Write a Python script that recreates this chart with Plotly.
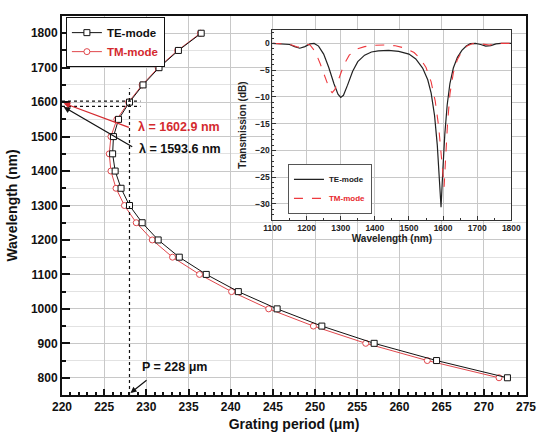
import plotly.graph_objects as go

# ---------------- data ----------------
wavelength_nm = [800, 850, 900, 950, 1000, 1050, 1100, 1150, 1200, 1250, 1300,
                 1350, 1400, 1450, 1500, 1550, 1600, 1650, 1700, 1750, 1800]
te_period_um = [272.8, 264.4, 257.0, 250.8, 245.5, 240.9, 237.1, 233.9, 231.4, 229.5, 228.0,
                227.0, 226.3, 226.0, 226.1, 226.7, 228.0, 229.6, 231.5, 233.8, 236.5]
tm_period_um = [271.8, 263.3, 256.0, 249.8, 244.5, 240.1, 236.3, 233.1, 230.7, 228.8, 227.4,
                226.4, 225.8, 225.6, 225.8, 226.5, 227.9, 229.5, 231.4, 233.7, 236.4]

inset_te_wl = [1100, 1130, 1150, 1165, 1180, 1195, 1210, 1222, 1235, 1250, 1265, 1280, 1292,
               1300, 1308, 1320, 1335, 1350, 1370, 1390, 1410, 1440, 1470, 1500, 1520, 1540,
               1555, 1565, 1575, 1583, 1589, 1594, 1599, 1605, 1612, 1620, 1630, 1642, 1655,
               1668, 1680, 1695, 1710, 1725, 1740, 1755, 1770, 1800]
inset_te_db = [0, -0.05, -0.2, -0.6, -0.9, -0.6, -0.1, 0, -0.5, -2.0, -4.5, -7.5, -9.5,
               -10.1, -9.7, -7.8, -5.2, -3.4, -2.2, -1.6, -1.4, -1.3, -1.5, -2.0, -2.9, -4.6,
               -6.8, -9.3, -13.5, -19.0, -24.5, -30.6, -24.0, -17.0, -11.5, -7.5, -4.6, -2.6, -1.3,
               -0.5, -0.05, 0, -0.2, -0.5, -0.4, -0.1, 0, 0]
inset_tm_wl = [1100, 1130, 1150, 1165, 1175, 1188, 1200, 1210, 1225, 1240, 1255, 1268, 1275,
               1283, 1295, 1310, 1325, 1345, 1370, 1400, 1430, 1460, 1490, 1515, 1535, 1550,
               1565, 1577, 1587, 1594, 1600, 1603, 1607, 1613, 1620, 1630, 1642, 1655, 1670,
               1685, 1700, 1720, 1735, 1750, 1770, 1800]
inset_tm_db = [0, -0.05, -0.15, -0.5, -0.7, -0.4, -0.1, -0.3, -1.5, -3.8, -6.6, -8.7, -9.2,
               -8.6, -6.5, -3.9, -2.2, -1.1, -0.6, -0.35, -0.3, -0.45, -0.9, -1.7, -3.0, -4.5,
               -7.2, -10.8, -15.5, -20.5, -25.5, -26.8, -22.0, -15.0, -9.5, -5.5, -3.0, -1.5, -0.5,
               -0.05, 0, -0.2, -0.3, -0.15, 0, 0]

series_names = ["TE-mode", "TM-mode"]
period_marker_um = 228
lambda_te_nm = 1593.6
lambda_tm_nm = 1602.9

main_x_range = [220, 275]
main_y_range = [750, 1850]
inset_x_range = [1100, 1800]
inset_y_range = [-33, 2.5]

# ---------------- styling ----------------
FONT = "Liberation Sans, Arial, sans-serif"
BLACK = "#111111"
TM_LINE = "#e0474c"
TM_TEXT = "#d42a2f"
GRID = "#c8c8c8"
GRID_MINOR = "#e2e2e2"
INSET_AX = "#333333"

fig = go.Figure()

# main curves
fig.add_trace(go.Scatter(
    x=tm_period_um, y=wavelength_nm, mode="lines+markers",
    name=f'<span style="color:{TM_TEXT}">{series_names[1]}</span>',
    line=dict(color=TM_LINE, width=1),
    marker=dict(symbol="circle", size=6, color="white", line=dict(color=TM_LINE, width=1)),
    legend="legend", legendrank=2))
fig.add_trace(go.Scatter(
    x=te_period_um, y=wavelength_nm, mode="lines+markers", name=series_names[0],
    line=dict(color=BLACK, width=1),
    marker=dict(symbol="square", size=6, color="white", line=dict(color=BLACK, width=1)),
    legend="legend", legendrank=1))

# inset curves
fig.add_trace(go.Scatter(
    x=inset_te_wl, y=inset_te_db, mode="lines", name=series_names[0],
    line=dict(color="#222222", width=1.2), xaxis="x4", yaxis="y4",
    legend="legend2", legendrank=1))
fig.add_trace(go.Scatter(
    x=inset_tm_wl, y=inset_tm_db, mode="lines",
    name=f'<span style="color:#e8282d">{series_names[1]}</span>',
    line=dict(color="#ee3a3f", width=1.1, dash="dash"), xaxis="x4", yaxis="y4",
    legend="legend2", legendrank=2))

bold = dict(family=FONT, weight="bold", color=BLACK)

fig.update_layout(
    width=547, height=435,
    margin=dict(l=62, r=11, t=16, b=40),
    paper_bgcolor="white", plot_bgcolor="white",
    font=dict(family=FONT, color=BLACK),
    xaxis=dict(
        domain=[0, 1], range=main_x_range, tick0=220, dtick=5,
        ticks="inside", ticklen=6, tickwidth=1.5, tickcolor=BLACK,
        showline=True, linewidth=2, linecolor=BLACK, mirror=True,
        showgrid=True, gridcolor=GRID, gridwidth=1, zeroline=False,
        minor=dict(dtick=1, ticks="inside", ticklen=3, tickcolor=BLACK, showgrid=False),
        tickfont=dict(size=12, **bold),
        title=dict(text="Grating period (μm)", font=dict(size=14, **bold), standoff=6),
        automargin=False,
    ),
    yaxis=dict(
        domain=[0, 1], range=main_y_range, tick0=800, dtick=100,
        ticks="inside", ticklen=8, tickwidth=1.5, tickcolor=BLACK,
        showline=True, linewidth=2, linecolor=BLACK, mirror=True,
        showgrid=True, gridcolor=GRID, gridwidth=1, zeroline=False,
        minor=dict(dtick=50, ticks="inside", ticklen=4, tickcolor=BLACK,
                   showgrid=True, gridcolor=GRID_MINOR),
        tickfont=dict(size=12, **bold),
        title=dict(text="Wavelength (nm)", font=dict(size=14, **bold), standoff=10),
        automargin=False,
    ),
    xaxis4=dict(
        domain=[0.4536, 0.9684], anchor="y4", range=inset_x_range, dtick=100,
        ticks="inside", ticklen=4, tickcolor=INSET_AX,
        minor=dict(dtick=50, ticks="inside", ticklen=2, tickcolor=INSET_AX),
        showline=True, linewidth=1, linecolor=INSET_AX, mirror=True,
        showgrid=True, gridcolor=GRID, zeroline=False,
        tickfont=dict(size=8.5, family=FONT, weight="bold", color="#222222"),
        title=dict(text="Wavelength (nm)",
                   font=dict(size=10, family=FONT, weight="bold", color="#222222"), standoff=2),
    ),
    yaxis4=dict(
        domain=[0.4617, 0.963], anchor="x4", range=inset_y_range, dtick=5,
        ticks="inside", ticklen=4, tickcolor=INSET_AX,
        minor=dict(dtick=1, ticks="inside", ticklen=2, tickcolor=INSET_AX),
        showline=True, linewidth=1, linecolor=INSET_AX, mirror=True,
        showgrid=True, gridcolor=GRID, zeroline=False,
        tickfont=dict(size=8.5, family=FONT, weight="bold", color="#222222"),
        title=dict(text="Transmission (dB)",
                   font=dict(size=10, family=FONT, weight="bold", color="#222222"), standoff=6),
    ),
    legend=dict(
        x=0.0084, y=0.997, xanchor="left", yanchor="top",
        bgcolor="white", bordercolor=BLACK, borderwidth=1,
        font=dict(size=11.5, **bold), tracegroupgap=0, itemwidth=30,
        traceorder="normal",
    ),
    legend2=dict(
        x=0.487, y=0.478, xanchor="left", yanchor="bottom",
        bgcolor="white", bordercolor="#555555", borderwidth=1,
        font=dict(size=8, family=FONT, weight="bold", color="#222222"),
        tracegroupgap=0, itemwidth=30, traceorder="normal",
    ),
    showlegend=True,
)

# dotted guide lines
dot = dict(color=BLACK, width=1.2, dash="dot")
fig.add_shape(type="line", xref="x", yref="y", x0=period_marker_um, x1=period_marker_um,
              y0=main_y_range[0], y1=1640, line=dot)
fig.add_shape(type="line", xref="x", yref="y", x0=main_x_range[0], x1=229.3,
              y0=lambda_tm_nm, y1=lambda_tm_nm, line=dot)
fig.add_shape(type="line", xref="x", yref="y", x0=main_x_range[0], x1=229.3,
              y0=lambda_te_nm - 6, y1=lambda_te_nm - 6, line=dot)

# arrows
fig.add_annotation(x=220.2, y=1597, ax=228.1, ay=1525, xref="x", yref="y", axref="x", ayref="y",
                   text="", showarrow=True, arrowhead=2, arrowsize=1, arrowwidth=1.3,
                   arrowcolor="#d42a2f")
fig.add_annotation(x=220.2, y=1586, ax=228.5, ay=1468, xref="x", yref="y", axref="x", ayref="y",
                   text="", showarrow=True, arrowhead=2, arrowsize=1, arrowwidth=1.3,
                   arrowcolor=BLACK)
fig.add_annotation(x=228.12, y=756, ax=230.2, ay=796, xref="x", yref="y", axref="x", ayref="y",
                   text="", showarrow=True, arrowhead=2, arrowsize=1, arrowwidth=1.2,
                   arrowcolor=BLACK)

# labels
fig.add_annotation(x=228.8, y=1528, xref="x", yref="y", xanchor="left", yanchor="middle",
                   text=f"λ = {lambda_tm_nm} nm", showarrow=False,
                   font=dict(size=12.5, family=FONT, weight="bold", color="#d42a2f"))
fig.add_annotation(x=228.9, y=1465, xref="x", yref="y", xanchor="left", yanchor="middle",
                   text=f"λ = {lambda_te_nm} nm", showarrow=False,
                   font=dict(size=12.5, family=FONT, weight="bold", color=BLACK))
fig.add_annotation(x=229.3, y=831, xref="x", yref="y", xanchor="left", yanchor="middle",
                   text=f"P = {period_marker_um} μm", showarrow=False,
                   font=dict(size=12.5, family=FONT, weight="bold", color=BLACK))

fig.write_html("out.html")
